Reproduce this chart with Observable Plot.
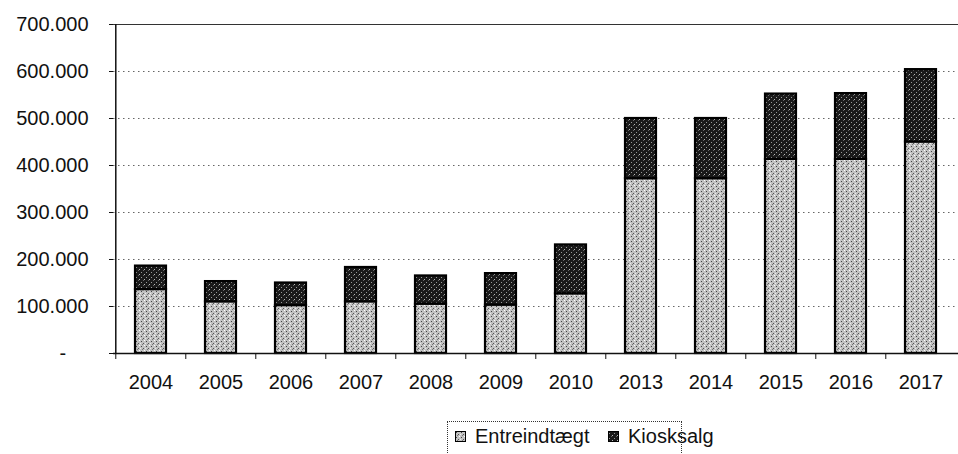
<!DOCTYPE html>
<html>
<head>
<meta charset="utf-8">
<script src="https://cdn.jsdelivr.net/npm/d3@7"></script>
<script src="https://cdn.jsdelivr.net/npm/@observablehq/plot@0.6"></script>
<style>
  body { margin: 0; background: #fff; font-family: "Liberation Sans", Arial, sans-serif; }
  #wrap { position: relative; width: 958px; height: 454px; overflow: hidden; }
  #legend { position: absolute; left: 447px; top: 421px; width: 233px; height: 40px;
            border: 1px dotted #333; font-size: 20px; color: #111; white-space: nowrap; }
  #legend .item { position: absolute; top: 3px; display: flex; align-items: center; }
  #legend svg { margin-right: 9px; }
</style>
</head>
<body>
<div id="wrap"><div id="chart"></div><div id="legend"></div></div>
<script>
const years = ["2004","2005","2006","2007","2008","2009","2010","2013","2014","2015","2016","2017"];
const entreindtaegt = [136000,110000,102000,110000,105000,103000,127000,372000,372000,413000,413000,450000];
const kiosksalg = [50000,43000,48000,73000,60000,67000,104000,128000,128000,139000,140000,154000];
const seriesNames = ["Entreindtægt","Kiosksalg"];
const yTicks = [0,100000,200000,300000,400000,500000,600000,700000];
const yTickLabels = ["-\u00a0\u00a0\u00a0\u00a0","100.000","200.000","300.000","400.000","500.000","600.000","700.000"];

const rows = [];
years.forEach((y, i) => {
  rows.push({year: y, series: seriesNames[0], value: entreindtaegt[i]});
  rows.push({year: y, series: seriesNames[1], value: kiosksalg[i]});
});

const step = (958 - 113) / years.length;

const chart = Plot.plot({
  width: 958,
  height: 420,
  marginLeft: 113,
  marginRight: 0,
  marginTop: 24,
  marginBottom: 67,
  style: {fontFamily: "'Liberation Sans', Arial, sans-serif", fontSize: "20px", color: "#111", background: "#fff"},
  x: {domain: years, paddingInner: 0.56, paddingOuter: 0.28, label: null},
  y: {domain: [0, 700000], label: null},
  color: {domain: seriesNames, range: ["url(#patEntre)", "url(#patKiosk)"]},
  marks: [
    Plot.ruleY(yTicks.filter(d => d > 0 && d < 700000), {stroke: "#666", strokeDasharray: "1.5,3.5", strokeWidth: 1}),
    Plot.ruleY([700000], {stroke: "#333", strokeWidth: 1.2}),
    Plot.barY(rows, {x: "year", y: "value", fill: "series", order: seriesNames, stroke: "#000", strokeWidth: 2.2}),
    Plot.ruleY([0], {stroke: "#111", strokeWidth: 1.5}),
    Plot.ruleX([years[0]], {dx: -step / 2, y1: 0, y2: 700000, stroke: "#111", strokeWidth: 1.5}),
    Plot.axisY({ticks: yTicks, tickFormat: (d, i) => yTickLabels[yTicks.indexOf(d)], tickSize: 4, tickPadding: 21, stroke: "#111", fontSize: 20}),
    Plot.axisX({tickSize: 0, tickPadding: 21, fontSize: 20}),
    Plot.axisX({tickFormat: null, tickSize: 6, dx: -step / 2, stroke: "#111", text: null})
  ]
});

const svgNS = "http://www.w3.org/2000/svg";
const defsHTML = `
<pattern id="patEntre" width="5" height="5" patternUnits="userSpaceOnUse">
  <rect width="5" height="5" fill="#c2c2c2"/>
  <rect x="1" y="1" width="1" height="1" fill="#444"/>
  <rect x="3" y="3" width="1" height="1" fill="#555"/>
  <rect x="4" y="0" width="1" height="1" fill="#fff"/>
  <rect x="0" y="3" width="1" height="1" fill="#eee"/>
  <rect x="2" y="4" width="1" height="1" fill="#777"/>
</pattern>
<pattern id="patKiosk" width="5" height="5" patternUnits="userSpaceOnUse">
  <rect width="5" height="5" fill="#1a1a1a"/>
  <rect x="1" y="2" width="1" height="1" fill="#999"/>
  <rect x="3" y="0" width="1" height="1" fill="#666"/>
  <rect x="4" y="4" width="1" height="1" fill="#bbb"/>
</pattern>`;
const defs = document.createElementNS(svgNS, "defs");
defs.innerHTML = defsHTML;
chart.insertBefore(defs, chart.firstChild);
document.getElementById("chart").appendChild(chart);

const legend = document.getElementById("legend");
const sw = (id) => `<svg width="11" height="11"><defs>${defsHTML.replace(/id="pat/g, 'id="lg' + id)}</defs><rect x="0.5" y="0.5" width="10" height="10" fill="url(#lg${id}${id === 'E' ? 'Entre' : 'Kiosk'})" stroke="#000"/></svg>`;
legend.innerHTML =
  `<div class="item" style="left:7px">${sw('E')}<span>${seriesNames[0]}</span></div>` +
  `<div class="item" style="left:160px">${sw('K')}<span>${seriesNames[1]}</span></div>`;
</script>
</body>
</html>
